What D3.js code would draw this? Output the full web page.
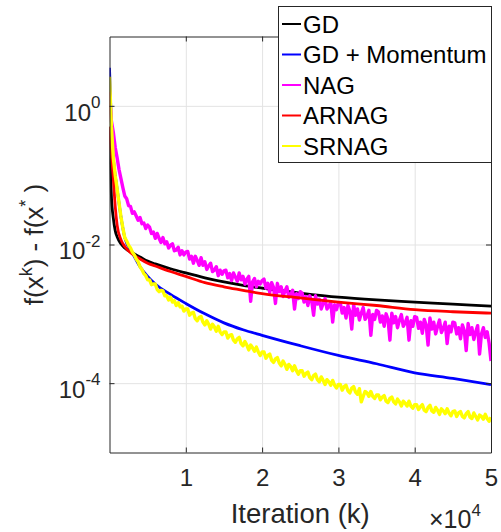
<!DOCTYPE html>
<html>
<head>
<meta charset="utf-8">
<script src="https://cdn.jsdelivr.net/npm/d3@7"></script>
<style>
  body { margin: 0; background: #fff; }
  svg { display: block; font-family: "Liberation Sans", Arial, Helvetica, sans-serif; }
</style>
</head>
<body>
<svg id="chart" width="501" height="532"></svg>
<script>
// series names / colours (legend order = draw order)
const seriesNames = ["GD", "GD + Momentum", "NAG", "ARNAG", "SRNAG"];
const seriesColors = ["#000000", "#0000ff", "#ff00ff", "#ff0000", "#ffff00"];

// smooth curves: iteration k and log10(f(x^k) - f*)
const smoothIters = [0, 250, 500, 750, 1000, 1500, 2000, 3000, 4000, 5000, 6000, 8000, 10000,
  12500, 15000, 17500, 20000, 25000, 30000, 35000, 40000, 45000, 50000];
const gdExp = [-0.30, -1.30, -1.62, -1.80, -1.89, -1.99, -2.05, -2.12, -2.18, -2.24, -2.28, -2.35, -2.41,
  -2.48, -2.54, -2.59, -2.63, -2.70, -2.76, -2.80, -2.83, -2.86, -2.89];
const momentumExp = [0.55, -0.30, -0.75, -1.00, -1.20, -1.60, -1.90, -2.12, -2.32, -2.46, -2.57, -2.72, -2.85,
  -3.00, -3.13, -3.23, -3.31, -3.46, -3.60, -3.72, -3.85, -3.93, -4.02];
const arnagExp = [-0.30, -0.70, -1.05, -1.45, -1.72, -1.93, -2.03, -2.14, -2.21, -2.27, -2.31, -2.39, -2.46,
  -2.55, -2.61, -2.66, -2.71, -2.77, -2.83, -2.88, -2.94, -2.97, -2.99];

// noisy curves, one sample every 250 iterations (0 ... 50000)
const noisyIters = d3.range(0, 50001, 250);
const nagExp = [
  0.20, -0.22, -0.38, -0.60, -0.75, -0.92, -1.05, -1.18, -1.30, -1.34, -1.44, -1.45, -1.55, -1.53, -1.59, -1.65, -1.61, -1.70, -1.69, -1.77, -1.72,
  -1.75, -1.84, -1.82, -1.91, -1.84, -1.91, -1.97, -1.90, -1.99, -1.96, -2.05, -2.01, -1.99, -2.09, -2.08, -2.04, -2.15, -2.09, -2.15, -2.11,
  -2.10, -2.21, -2.17, -2.27, -2.17, -2.23, -2.30, -2.19, -2.30, -2.25, -2.36, -2.31, -2.27, -2.39, -2.37, -2.32, -2.45, -2.37, -2.43, -2.38,
  -2.37, -2.48, -2.42, -2.52, -2.41, -2.47, -2.53, -2.41, -2.51, -2.46, -2.57, -2.50, -2.46, -2.82, -2.54, -2.49, -2.61, -2.53, -2.57, -2.52,
  -2.50, -2.63, -2.56, -2.69, -2.55, -2.62, -2.85, -2.56, -2.68, -2.61, -2.75, -2.67, -2.61, -2.76, -2.72, -2.66, -2.93, -2.71, -2.78, -2.68,
  -2.70, -2.83, -2.75, -2.88, -2.74, -2.81, -3.02, -2.74, -2.86, -2.79, -2.93, -2.85, -2.78, -2.93, -2.89, -2.83, -3.12, -2.87, -2.94, -2.84,
  -2.84, -2.99, -2.91, -3.06, -2.88, -2.96, -3.22, -2.87, -3.02, -2.93, -3.09, -2.99, -2.91, -3.08, -3.03, -2.95, -3.31, -3.01, -3.08, -2.95,
  -2.97, -3.12, -3.03, -3.18, -3.00, -3.08, -3.38, -2.99, -3.13, -3.04, -3.20, -3.09, -3.01, -3.18, -3.13, -3.05, -3.38, -3.10, -3.18, -3.04,
  -3.05, -3.21, -3.12, -3.28, -3.08, -3.16, -3.45, -3.06, -3.22, -3.12, -3.29, -3.18, -3.09, -3.27, -3.21, -3.12, -3.43, -3.18, -3.26, -3.12,
  -3.13, -3.29, -3.20, -3.36, -3.16, -3.24, -3.53, -3.14, -3.30, -3.20, -3.37, -3.26, -3.17, -3.58, -3.29, -3.20, -3.34, -3.26, -3.42, -3.68];
const srnagExp = [
  0.42, -0.30, -0.75, -1.00, -1.20, -1.40, -1.60, -1.76, -1.90, -1.95, -2.01, -2.05, -2.11, -2.15, -2.21, -2.25, -2.32, -2.36, -2.42, -2.45, -2.51,
  -2.51, -2.58, -2.57, -2.57, -2.65, -2.68, -2.66, -2.67, -2.74, -2.74, -2.80, -2.76, -2.83, -2.81, -2.88, -2.84, -2.90, -2.89, -2.96, -2.93,
  -2.93, -3.02, -2.99, -2.98, -3.07, -3.10, -3.05, -3.04, -3.12, -3.16, -3.10, -3.15, -3.22, -3.15, -3.19, -3.25, -3.18, -3.26, -3.30, -3.26,
  -3.26, -3.35, -3.31, -3.30, -3.38, -3.41, -3.36, -3.34, -3.43, -3.46, -3.40, -3.45, -3.52, -3.45, -3.49, -3.54, -3.48, -3.55, -3.60, -3.55,
  -3.55, -3.64, -3.60, -3.58, -3.67, -3.70, -3.65, -3.63, -3.71, -3.75, -3.68, -3.73, -3.80, -3.73, -3.76, -3.82, -3.75, -3.82, -3.87, -3.82,
  -3.82, -3.90, -3.86, -3.84, -3.92, -3.95, -3.89, -3.87, -3.95, -3.98, -3.91, -3.96, -4.02, -3.95, -3.98, -4.03, -3.96, -4.03, -4.07, -4.02,
  -4.02, -4.10, -4.05, -4.03, -4.11, -4.14, -4.07, -4.05, -4.13, -4.16, -4.08, -4.27, -4.19, -4.12, -4.14, -4.19, -4.12, -4.19, -4.22, -4.17,
  -4.17, -4.24, -4.20, -4.18, -4.26, -4.28, -4.22, -4.20, -4.27, -4.30, -4.23, -4.27, -4.33, -4.26, -4.29, -4.33, -4.26, -4.33, -4.36, -4.31,
  -4.31, -4.38, -4.34, -4.31, -4.39, -4.41, -4.35, -4.32, -4.40, -4.42, -4.35, -4.39, -4.45, -4.37, -4.40, -4.44, -4.37, -4.43, -4.47, -4.41,
  -4.40, -4.48, -4.43, -4.41, -4.48, -4.50, -4.44, -4.41, -4.49, -4.51, -4.43, -4.48, -4.53, -4.46, -4.48, -4.52, -4.45, -4.51, -4.55, -4.49];

const xTicks = [10000, 20000, 30000, 40000, 50000];
const yTicks = [1, 1e-2, 1e-4];

const toPoints = (iters, exps) => iters.map((k, i) => ({k: k, v: Math.pow(10, exps[i])}));
const series = [
  {pts: toPoints(smoothIters, gdExp), smooth: true},
  {pts: toPoints(smoothIters, momentumExp), smooth: true},
  {pts: toPoints(noisyIters, nagExp), smooth: false},
  {pts: toPoints(smoothIters, arnagExp), smooth: true},
  {pts: toPoints(noisyIters, srnagExp), smooth: false}
];

const box = {left: 109.5, right: 491, top: 36.5, bottom: 452.5};
const axisColor = "#262626";
const gridColor = "#e3e3e3";

const svg = d3.select("#chart");

const x = d3.scaleLinear().domain([0, 50000]).range([box.left, box.right]);
const y = d3.scaleLog().domain([1e-5, 10]).range([box.bottom, box.top]);

// grid
const grid = svg.append("g");
grid.append("g").attr("transform", "translate(0," + box.bottom + ")")
  .call(d3.axisBottom(x).tickValues(xTicks).tickSize(-(box.bottom - box.top)).tickFormat(""));
grid.append("g").attr("transform", "translate(" + box.left + ",0)")
  .call(d3.axisLeft(y).tickValues(yTicks).tickSize(-(box.right - box.left)).tickFormat(""));
grid.selectAll(".domain").remove();
grid.selectAll("line").attr("stroke", gridColor).attr("stroke-width", 1);

// lines
svg.append("clipPath").attr("id", "clip").append("rect")
  .attr("x", box.left).attr("y", box.top)
  .attr("width", box.right - box.left).attr("height", box.bottom - box.top);

const lineSmooth = d3.line().x(d => x(d.k)).y(d => y(d.v)).curve(d3.curveMonotoneX);
const lineRaw = d3.line().x(d => x(d.k)).y(d => y(d.v));

svg.append("g").attr("clip-path", "url(#clip)")
  .selectAll("path")
  .data(series)
  .enter()
  .append("path")
  .attr("fill", "none")
  .attr("stroke", (d, i) => seriesColors[i])
  .attr("stroke-width", d => d.smooth ? 2.8 : 3.4)
  .attr("stroke-linejoin", "round")
  .attr("d", d => d.smooth ? lineSmooth(d.pts) : lineRaw(d.pts));

// axes (ticks inward, box on all four sides)
const styleAxis = g => {
  g.select(".domain").attr("stroke", axisColor).attr("stroke-width", 1);
  g.selectAll(".tick line").attr("stroke", axisColor);
  g.selectAll("text").attr("fill", axisColor);
};

svg.append("g").attr("transform", "translate(0," + box.bottom + ")")
  .call(d3.axisBottom(x).tickValues(xTicks).tickSizeInner(-5).tickSizeOuter(0).tickPadding(16)
    .tickFormat(d => d / 10000))
  .call(styleAxis)
  .call(g => g.selectAll("text").attr("font-size", 24).attr("font-family", null));

svg.append("g").attr("transform", "translate(0," + box.top + ")")
  .call(d3.axisTop(x).tickValues(xTicks).tickSizeInner(-5).tickSizeOuter(0).tickFormat(""))
  .call(styleAxis);

const leftAxis = svg.append("g").attr("transform", "translate(" + box.left + ",0)")
  .call(d3.axisLeft(y).tickValues(yTicks).tickSizeInner(-5).tickSizeOuter(0).tickPadding(9).tickFormat(""))
  .call(styleAxis);

leftAxis.selectAll(".tick text").each(function(d) {
  const t = d3.select(this).attr("font-size", 24).attr("font-family", null).attr("dy", "0.6em");
  t.append("tspan").text("10");
  t.append("tspan").attr("font-size", 17).attr("dy", "-0.75em").text(Math.round(Math.log10(d)));
});

svg.append("g").attr("transform", "translate(" + box.right + ",0)")
  .call(d3.axisRight(y).tickValues(yTicks).tickSizeInner(-5).tickSizeOuter(0).tickFormat(""))
  .call(styleAxis);

// axis labels
svg.append("text")
  .attr("x", (box.left + box.right) / 2).attr("y", 523)
  .attr("text-anchor", "middle").attr("font-size", 27.5).attr("fill", axisColor)
  .text("Iteration (k)");

const expLabel = svg.append("text")
  .attr("x", 429).attr("y", 528).attr("font-size", 25).attr("fill", axisColor);
expLabel.append("tspan").text("\u00d710");
expLabel.append("tspan").attr("font-size", 17).attr("dy", -12).text("4");

const yLabel = svg.append("text")
  .attr("transform", "translate(43," + ((box.top + box.bottom) / 2) + ") rotate(-90)")
  .attr("text-anchor", "middle").attr("font-size", 26).attr("fill", axisColor);
yLabel.append("tspan").text("f(x");
yLabel.append("tspan").attr("font-size", 18).attr("dy", -11).text("k");
yLabel.append("tspan").attr("dy", 11).text(") - f(x");
yLabel.append("tspan").attr("font-size", 18).attr("dy", -11).text("*");
yLabel.append("tspan").attr("dy", 11).text(" )");

// legend
const legend = svg.append("g");
legend.append("rect")
  .attr("x", 278.5).attr("y", 6.5).attr("width", 213).attr("height", 156)
  .attr("fill", "#fff").attr("stroke", axisColor).attr("stroke-width", 1);

const legendRow = d3.scaleLinear().domain([0, 4]).range([24, 146]);
const rows = legend.selectAll("g.row")
  .data(seriesNames)
  .enter()
  .append("g")
  .attr("class", "row")
  .attr("transform", (d, i) => "translate(0," + legendRow(i) + ")");

rows.append("line")
  .attr("x1", 282).attr("x2", 301).attr("y1", 0).attr("y2", 0)
  .attr("stroke", (d, i) => seriesColors[i]).attr("stroke-width", 2);

rows.append("text")
  .attr("x", 303).attr("y", 0).attr("dy", "0.36em")
  .attr("font-size", 24).attr("fill", "#000")
  .text(d => d);
</script>
</body>
</html>
